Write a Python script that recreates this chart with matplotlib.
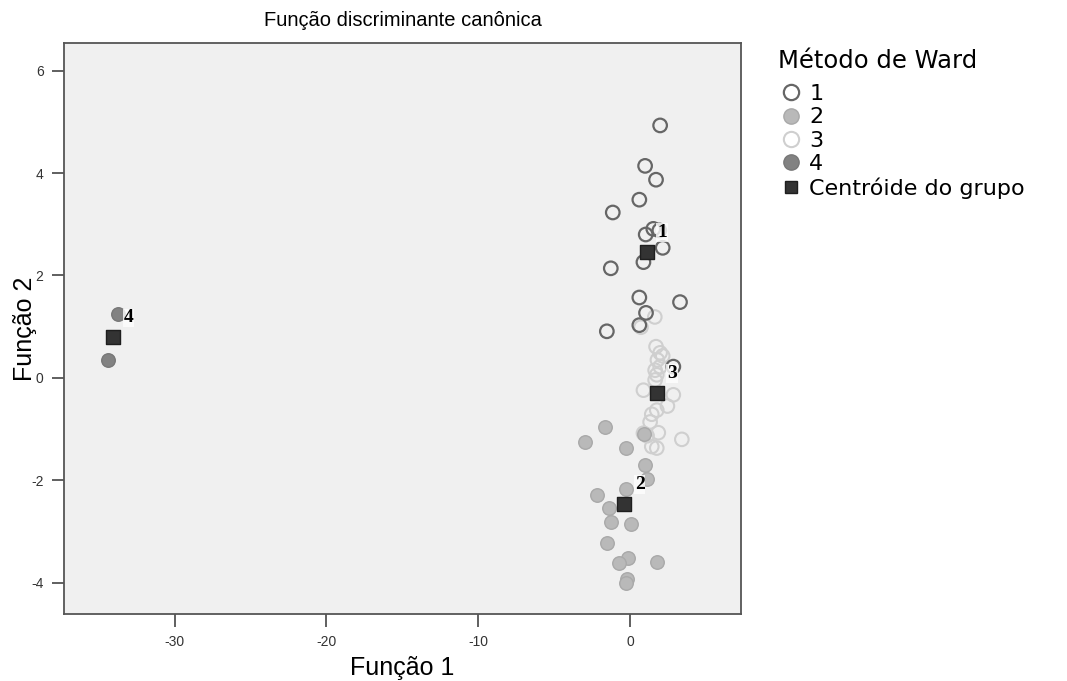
import matplotlib
matplotlib.use('Agg')
from matplotlib import pyplot as plt
from matplotlib.lines import Line2D

plt.rcParams['font.family'] = ['Liberation Sans', 'DejaVu Sans']
plt.rcParams['axes.unicode_minus'] = False

# scores on the two canonical functions, per Ward cluster
g1_x = [1.98, 0.99, 1.71, 0.61, -1.14, 1.53, 1.93, 1.03, 2.15, 0.88, -1.27,
        0.61, 3.29, 1.05, 0.61, -1.53, 2.85]
g1_y = [4.93, 4.14, 3.87, 3.48, 3.23, 2.91, 2.88, 2.80, 2.54, 2.26, 2.14,
        1.57, 1.48, 1.27, 1.03, 0.91, 0.22]

g2_x = [-1.65, -2.96, -0.28, 0.99, 1.14, -0.26, -2.19, -1.36, -1.25, 0.07,
        -1.50, -0.11, -0.72, 1.76, -0.18, -0.26, 0.92]
g2_y = [-0.96, -1.25, -1.37, -1.71, -1.97, -2.17, -2.29, -2.55, -2.82, -2.86,
        -3.23, -3.51, -3.61, -3.60, -3.93, -4.01, -1.10]

g3_x = [1.63, 0.72, 1.71, 1.98, 2.15, 1.80, 1.98, 1.65, 1.76, 1.65, 0.88,
        2.85, 2.46, 1.76, 1.43, 1.32, 1.86, 0.88, 3.41, 1.43, 1.76, 1.12]
g3_y = [1.19, 0.99, 0.61, 0.49, 0.43, 0.35, 0.22, 0.15, 0.06, -0.04, -0.24,
        -0.33, -0.55, -0.63, -0.71, -0.86, -1.07, -1.08, -1.20, -1.34, -1.37, -1.13]

g4_x = [-33.71, -34.37]
g4_y = [1.24, 0.34]

cent_labels = ['1', '2', '3', '4']
cent_x = [1.10, -0.38, 1.76, -34.04]
cent_y = [2.46, -2.46, -0.30, 0.79]

fig = plt.figure(figsize=(10.67, 6.81), dpi=100)
ax = fig.add_axes([0.0603, 0.0984, 0.6342, 0.8385])
ax.set_facecolor('#f0f0f0')

ms = 95
ax.scatter(g3_x, g3_y, s=ms, facecolors='none', edgecolors='#cfcfcf', linewidths=1.5, zorder=2)
ax.scatter(g1_x, g1_y, s=ms, facecolors='none', edgecolors='#666666', linewidths=1.6, zorder=3)
ax.scatter(g2_x, g2_y, s=ms, facecolors='#b9b9b9', edgecolors='#a9a9a9', linewidths=1.0, zorder=2)
ax.scatter(g4_x, g4_y, s=ms, facecolors='#828282', edgecolors='#777777', linewidths=1.0, zorder=2)
ax.scatter(cent_x, cent_y, s=115, marker='s', facecolors='#333333', edgecolors='#1e1e1e',
           linewidths=1.0, zorder=4)

for lab, x, y in zip(cent_labels, cent_x, cent_y):
    ax.annotate(lab, (x, y), xytext=(11, 14), textcoords='offset points',
                ha='center', va='center', fontsize=14, fontweight='bold',
                family=['Liberation Serif', 'DejaVu Serif'], color='black', zorder=5,
                bbox=dict(boxstyle='square,pad=0.05', fc='white', ec='none', alpha=0.8))

ax.set_xlim(-37.27, 7.31)
ax.set_ylim(-4.61, 6.54)
ax.set_xticks([-30, -20, -10, 0])
ax.set_yticks([-4, -2, 0, 2, 4, 6])
ax.tick_params(length=9, width=1.2, color='#444444', labelsize=10,
               labelcolor='#333333', pad=6)
for s in ax.spines.values():
    s.set_color('#555555')
    s.set_linewidth(1.3)

ax.set_title('Função discriminante canônica', fontsize=14.5, pad=12)
ax.set_xlabel('Função 1', fontsize=18, labelpad=5)
ax.set_ylabel('Função 2', fontsize=18)
ax.yaxis.set_label_coords(-0.040, 0.5)

handles = [
    Line2D([], [], ls='none', marker='o', ms=11, mfc='none', mec='#666666', mew=1.6),
    Line2D([], [], ls='none', marker='o', ms=11, mfc='#b9b9b9', mec='#a9a9a9'),
    Line2D([], [], ls='none', marker='o', ms=11, mfc='none', mec='#cfcfcf', mew=1.5),
    Line2D([], [], ls='none', marker='o', ms=11, mfc='#828282', mec='#777777'),
    Line2D([], [], ls='none', marker='s', ms=8, mfc='#333333', mec='#1e1e1e'),
]
names = ['1', '2', '3', '4', 'Centróide do grupo']
leg = fig.legend(handles, names, title='Método de Ward', loc='upper left',
                 bbox_to_anchor=(778 / 1067, 1 - 49 / 681), frameon=False,
                 prop={'family': 'DejaVu Sans', 'size': 16},
                 borderpad=0, borderaxespad=0,
                 handlelength=1.2, handletextpad=0.2, labelspacing=0.15,
                 title_fontproperties={'family': 'DejaVu Sans', 'size': 17.5})
leg._legend_box.align = 'left'
leg._legend_box.sep = 8

fig.savefig('out.png', dpi=100)
